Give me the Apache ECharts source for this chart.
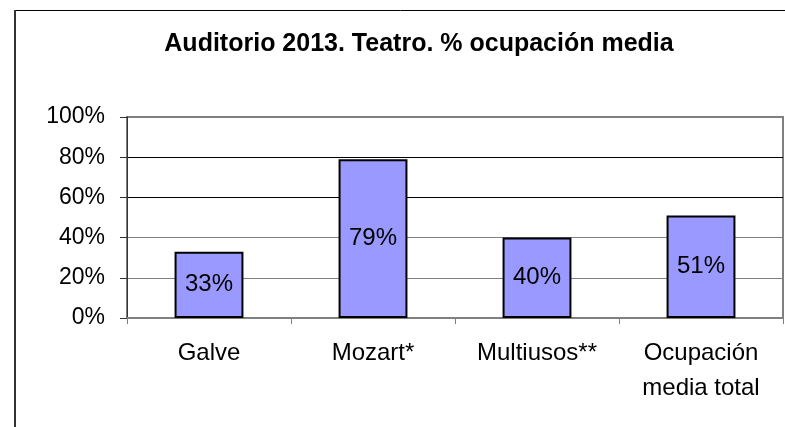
<!DOCTYPE html>
<html>
<head>
<meta charset="utf-8">
<style>
  html, body { margin: 0; padding: 0; background: #fff; }
  #chart { width: 785px; height: 427px; }
</style>
<script src="https://cdn.jsdelivr.net/npm/echarts@6/dist/echarts.min.js"></script>
</head>
<body>
<div id="chart"></div>
<script>
var categories = ['Galve', 'Mozart*', 'Multiusos**', 'Ocupación\nmedia total'];
var occupancy = [33, 79, 40, 51];
var yTicks = [0, 20, 40, 60, 80, 100];

var myChart = echarts.init(document.getElementById('chart'));
var font = 'Liberation Sans, Arial, sans-serif';
var option = {
    animation: false,
    backgroundColor: '#fff',
    title: {
        text: 'Auditorio 2013. Teatro. % ocupación media',
        left: 414,
        textAlign: 'center',
        top: 27,
        textStyle: {
            fontFamily: font,
            fontSize: 25,
            fontWeight: 'bold',
            color: '#000'
        }
    },
    // marco exterior del gráfico
    graphic: [{
        type: 'line',
        shape: { x1: 15, y1: 10.5, x2: 800, y2: 10.5 },
        style: { stroke: '#000', lineWidth: 1 }
    }, {
        type: 'line',
        shape: { x1: 15, y1: 10, x2: 15, y2: 440 },
        style: { stroke: '#333', lineWidth: 2 }
    }],
    grid: {
        left: 127,
        right: 2,
        top: 117,
        bottom: 109,
        show: true,
        borderColor: '#808080',
        borderWidth: 2
    },
    xAxis: {
        type: 'category',
        data: categories,
        axisLine: { lineStyle: { color: '#808080', width: 2 } },
        axisTick: { show: true, length: 6, lineStyle: { color: '#808080' } },
        axisLabel: {
            fontFamily: font,
            fontSize: 24,
            color: '#000',
            margin: 18,
            lineHeight: 35,
            interval: 0
        }
    },
    yAxis: {
        type: 'value',
        min: yTicks[0],
        max: yTicks[yTicks.length - 1],
        interval: 20,
        axisLine: { show: true, lineStyle: { color: '#333', width: 1 } },
        axisTick: { show: true, length: 7, lineStyle: { color: '#333' } },
        axisLabel: {
            fontFamily: font,
            fontSize: 23,
            color: '#000',
            margin: 22,
            formatter: '{value}%'
        },
        splitLine: {
            lineStyle: {
                color: ['#808080', '#808080', '#808080', '#000', '#000', '#808080'],
                width: 1
            }
        }
    },
    series: [{
        type: 'bar',
        data: occupancy,
        barWidth: '42%',
        itemStyle: {
            color: '#9999FF',
            borderColor: '#000',
            borderWidth: 2
        },
        label: {
            show: true,
            position: 'inside',
            formatter: '{c}%',
            fontFamily: font,
            fontSize: 24,
            color: '#000'
        }
    }]
};
myChart.setOption(option);
</script>
</body>
</html>
